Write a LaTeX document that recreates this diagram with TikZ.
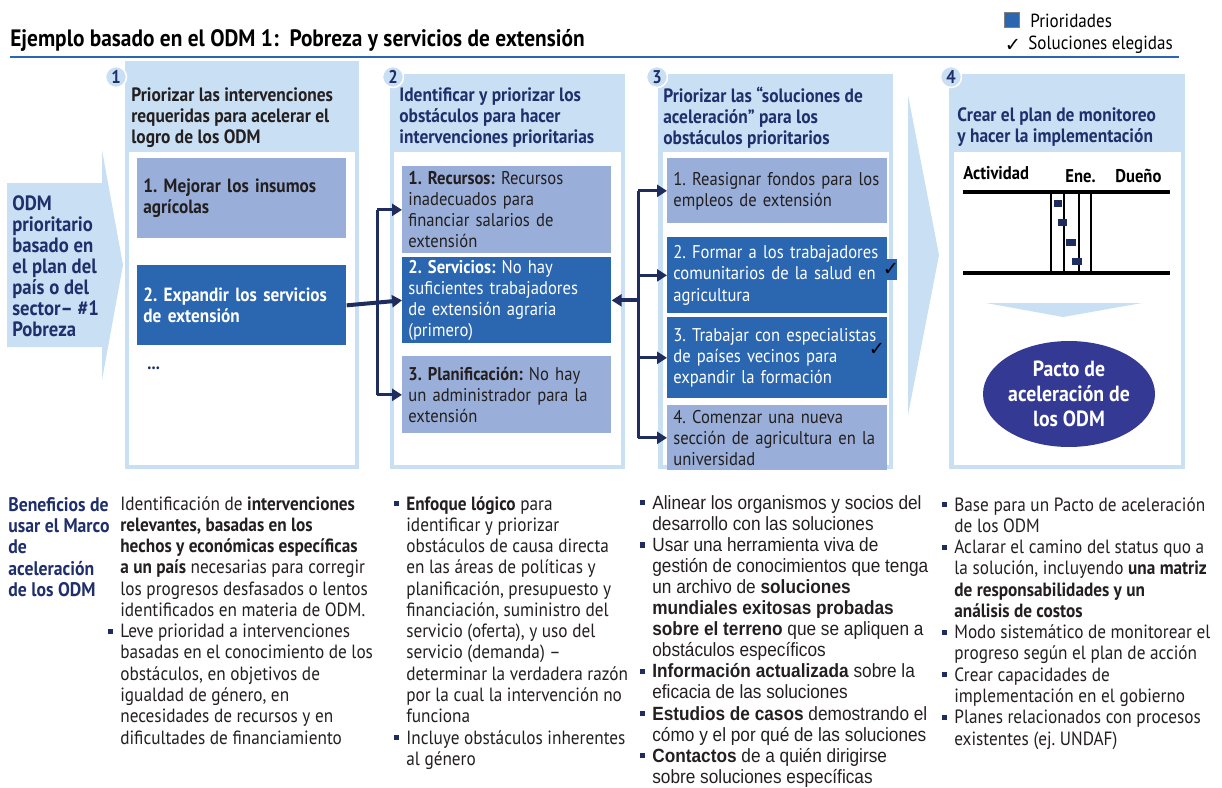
\documentclass[tikz,border=0pt]{standalone}
\usepackage{fontspec}
\setmainfont{PT Sans}[FakeStretch=0.9]
\newfontfamily\slimfont{Liberation Sans}[FakeStretch=0.9]
\newfontfamily\chkfont{DejaVu Sans}
\usetikzlibrary{arrows.meta,shapes.geometric}
\frenchspacing

\definecolor{panelblue}{HTML}{C9DFF3}
\definecolor{medblue}{HTML}{99AFD9}
\definecolor{darkblue}{HTML}{2B66B1}
\definecolor{linknavy}{HTML}{1F2C5E}
\definecolor{headnavy}{HTML}{1F2F6B}
\definecolor{pactblue}{HTML}{343A94}
\definecolor{bodytext}{HTML}{231F20}

\newcommand\boxfont{\fontsize{10.5pt}{12pt}\selectfont}
\newcommand\hdfont{\fontsize{11pt}{12pt}\selectfont\bfseries}
\newcommand\colfont{\fontsize{10.9pt}{12.1pt}\selectfont}
\newcommand\blt{\leavevmode\llap{\textcolor{linknavy}{\rule[0.2em]{0.27em}{0.27em}}\hspace{0.15cm}}}

\tikzset{
  medbox/.style={fill=medblue, text=bodytext, anchor=north west, align=left,
    inner xsep=0.12cm, inner ysep=0pt, font=\boxfont},
  darkbox/.style={medbox, fill=darkblue, text=white},
  hdtext/.style={anchor=north west, align=left, inner sep=0pt, font=\hdfont, text=headnavy},
  coltext/.style={anchor=north west, align=left, inner sep=0pt, font=\colfont, text=bodytext},
  stepnum/.style={circle, fill=panelblue, draw=white, line width=0.03cm, minimum size=0.42cm,
    inner sep=0pt, font=\fontsize{10.5pt}{12pt}\selectfont\bfseries, text=headnavy},
  link/.style={draw=linknavy, line width=0.06cm},
  linkarr/.style={link, -{Triangle[length=0.2cm,width=0.24cm]}},
  tick/.style={font=\fontsize{11pt}{12pt}\chkfont, inner sep=0pt, text=black},
}

\begin{document}
\begin{tikzpicture}[x=0.02cm, y=-0.02cm]
    \useasboundingbox (0,0) rectangle (1222,787);

    % title and legend
    \node[anchor=west, inner sep=0pt, font=\fontsize{13.5pt}{15pt}\selectfont\bfseries] (title) at (10,40)
        {Ejemplo basado en el ODM 1:\ \ Pobreza y servicios de extensión};
    \draw[darkblue, line width=0.03cm] (10,57) -- (1179,57);
    \node[fill=darkblue, draw=gray, minimum size=0.3cm, inner sep=0pt] (legsq) at (1012,20) {};
    \node[anchor=west, inner sep=0pt, font=\fontsize{10.8pt}{12pt}\selectfont] (legpri) at (1030,21) {Prioridades};
    \node[tick] (legchk) at (1013,45) {✓};
    \node[anchor=west, inner sep=0pt, font=\fontsize{10.8pt}{12pt}\selectfont] (legsol) at (1028,45) {Soluciones elegidas};

    % input arrow
    \fill[panelblue] (7,183) -- (102,183) -- (102,150) -- (123,265) -- (102,380) -- (102,347) -- (7,347) -- cycle;
    \node[hdtext, font=\fontsize{11.8pt}{12pt}\selectfont\bfseries] (odm) at (12,195)
        {ODM\\prioritario\\basado en\\el plan del\\país o del\\sector– \#1\\Pobreza};

    % panels
    \fill[panelblue] (125,61) rectangle (359,469);
    \fill[white] (129,152) rectangle (355,465);
    \fill[panelblue] (390,74) rectangle (625,469);
    \fill[white] (394,152) rectangle (621,465);
    \fill[panelblue] (658,74) rectangle (893,469);
    \fill[white] (663,152) rectangle (889,465);
    \fill[panelblue] (908,95) -- (939,255) -- (908,415) -- cycle;
    \fill[panelblue] (949,74) rectangle (1185,469);
    \fill[white] (954,152) rectangle (1181,465);

    \node[stepnum] (n1) at (116,77) {1};
    \node[stepnum] (n2) at (393,77) {2};
    \node[stepnum] (n3) at (657,77) {3};
    \node[stepnum] (n4) at (951,77) {4};

    \node[hdtext, text=bodytext] (h1) at (131,87) {Priorizar las intervenciones\\requeridas para acelerar el\\logro de los ODM};
    \node[hdtext] (h2) at (399,87) {Identificar y priorizar los\\obstáculos para hacer\\intervenciones prioritarias};
    \node[hdtext] (h3) at (663,87) {Priorizar las “soluciones de\\aceleración” para los\\obstáculos prioritarios};
    \node[hdtext] (h4) at (957,107) {Crear el plan de monitoreo\\y hacer la implementación};

    % step 1
    \node[medbox, text width=3.94cm, minimum height=1.6cm, font=\fontsize{10.9pt}{12pt}\selectfont\bfseries] (p1a) at (137,158)
        {1. Mejorar los insumos\\agrícolas};
    \node[darkbox, text width=3.94cm, minimum height=1.6cm, font=\fontsize{10.9pt}{12pt}\selectfont\bfseries] (p1b) at (137,265)
        {2. Expandir los servicios\\de extensión};
    \node[anchor=west, inner sep=0pt, font=\boxfont\bfseries, text=headnavy] (p1dots) at (147,368) {...};

    % step 2
    \node[medbox, text width=3.94cm, minimum height=1.74cm] (p2a) at (402,166)
        {\textbf{1. Recursos:} Recursos\\inadecuados para\\financiar salarios de\\extensión};
    \node[darkbox, text width=3.94cm, minimum height=1.72cm] (p2b) at (402,257)
        {\textbf{2. Servicios:} No hay\\suficientes trabajadores\\de extensión agraria\\(primero)};
    \node[medbox, text width=3.94cm, minimum height=1.54cm] (p2c) at (402,356)
        {\textbf{3. Planificación:} No hay\\un administrador para la\\extensión};

    % step 3
    \node[medbox, text width=4.16cm, minimum height=1.3cm] (p3a) at (667,158)
        {1. Reasignar fondos para los\\empleos de extensión};
    \node[darkbox, text width=4.16cm, minimum height=1.52cm] (p3b) at (667,237)
        {2. Formar a los trabajadores\\comunitarios de la salud en\\agricultura};
    \node[darkbox, text width=4.16cm, minimum height=1.62cm] (p3c) at (667,317)
        {3. Trabajar con especialistas\\de países vecinos para\\expandir la formación};
    \node[medbox, text width=4.16cm, minimum height=1.3cm] (p3d) at (667,405)
        {4. Comenzar una nueva\\sección de agricultura en la\\universidad};
    \fill[darkblue] (887,259) rectangle (897,280);
    \node[tick] (chk1) at (891,269) {✓};
    \node[tick] (chk2) at (877,349) {✓};

    % connectors
    \coordinate (bar1) at (377,300);
    \coordinate (bar3) at (638,300);
    \draw[linkarr, line width=0.08cm] (p1b.east) -- (p2b.west);
    \draw[link] (bar1 |- p2a.west) -- (bar1 |- p2c.west);
    \draw[linkarr] (bar1 |- p2a.west) -- (p2a.west);
    \draw[linkarr] (bar1 |- p2c.west) -- (p2c.west);
    \draw[link] (bar3 |- p3a.west) -- (bar3 |- p3d.west);
    \draw[linkarr, line width=0.08cm] (bar3 |- p2b.east) -- (p2b.east);
    \foreach \b in {p3a,p3b,p3c,p3d}
        \draw[linkarr] (bar3 |- \b.west) -- (\b.west);

    % step 4: plan table
    \node[anchor=base west, inner sep=0pt, font=\fontsize{10.5pt}{12pt}\selectfont\bfseries] (act) at (963,179) {Actividad};
    \node[anchor=base west, inner sep=0pt, font=\fontsize{10.5pt}{12pt}\selectfont\bfseries] (ene) at (1065,182) {Ene.};
    \node[anchor=base west, inner sep=0pt, font=\fontsize{10.5pt}{12pt}\selectfont\bfseries] (duen) at (1115,182) {Dueño};
    \draw[line width=0.08cm] (963,192) -- (1170,192);
    \draw[line width=0.08cm] (963,273) -- (1170,273);
    \foreach \xv in {1051,1064,1079,1091}
        \draw[line width=0.025cm] (\xv,192) -- (\xv,273);
    \fill[linknavy] (1054,200) rectangle (1062,207);
    \fill[linknavy] (1058,219) rectangle (1067,226);
    \fill[linknavy] (1066,239) rectangle (1076,246);
    \fill[linknavy] (1072,258) rectangle (1082,265);
    \fill[panelblue] (986,303) -- (1142,303) -- (1063,317) -- cycle;
    \node[ellipse, fill=pactblue, minimum width=3.44cm, minimum height=2.12cm, inner sep=0pt, align=center,
        text=white, font=\fontsize{12.5pt}{14.2pt}\selectfont\bfseries] (pact) at (1069,394)
        {Pacto de\\aceleración de\\los ODM};

    % benefits
    \node[hdtext, font=\fontsize{11.2pt}{12.1pt}\selectfont\bfseries] (ben) at (8,497)
        {Beneficios de\\usar el Marco\\de\\aceleración\\de los ODM};
    \node[coltext] (c2) at (120,496)
        {Identificación de \textbf{intervenciones}\\
         \textbf{relevantes, basadas en los}\\
         \textbf{hechos y económicas específicas}\\
         \textbf{a un país} necesarias para corregir\\
         los progresos desfasados o lentos\\
         identificados en materia de ODM.\\
         \blt Leve prioridad a intervenciones\\
         basadas en el conocimiento de los\\
         obstáculos, en objetivos de\\
         igualdad de género, en\\
         necesidades de recursos y en\\
         dificultades de financiamiento};
    \node[coltext] (c3) at (406,496)
        {\blt\textbf{Enfoque lógico} para\\
         identificar y priorizar\\
         obstáculos de causa directa\\
         en las áreas de políticas y\\
         planificación, presupuesto y\\
         financiación, suministro del\\
         servicio (oferta), y uso del\\
         servicio (demanda) –\\
         determinar la verdadera razón\\
         por la cual la intervención no\\
         funciona\\
         \blt Incluye obstáculos inherentes\\
         al género};
    \node[coltext, font=\fontsize{10.9pt}{12pt}\selectfont\slimfont] (c4) at (652,495)
        {\blt Alinear los organismos y socios del\\
         desarrollo con las soluciones\\
         \blt Usar una herramienta viva de\\
         gestión de conocimientos que tenga\\
         un archivo de \textbf{soluciones}\\
         \textbf{mundiales exitosas probadas}\\
         \textbf{sobre el terreno} que se apliquen a\\
         obstáculos específicos\\
         \blt\textbf{Información actualizada} sobre la\\
         eficacia de las soluciones\\
         \blt\textbf{Estudios de casos} demostrando el\\
         cómo y el por qué de las soluciones\\
         \blt\textbf{Contactos} de a quién dirigirse\\
         sobre soluciones específicas};
    \node[coltext] (c5) at (954,497)
        {\blt Base para un Pacto de aceleración\\
         de los ODM\\
         \blt Aclarar el camino del status quo a\\
         la solución, incluyendo \textbf{una matriz}\\
         \textbf{de responsabilidades y un}\\
         \textbf{análisis de costos}\\
         \blt Modo sistemático de monitorear el\\
         progreso según el plan de acción\\
         \blt Crear capacidades de\\
         implementación en el gobierno\\
         \blt Planes relacionados con procesos\\
         existentes (ej. UNDAF)};
\end{tikzpicture}
\end{document}
